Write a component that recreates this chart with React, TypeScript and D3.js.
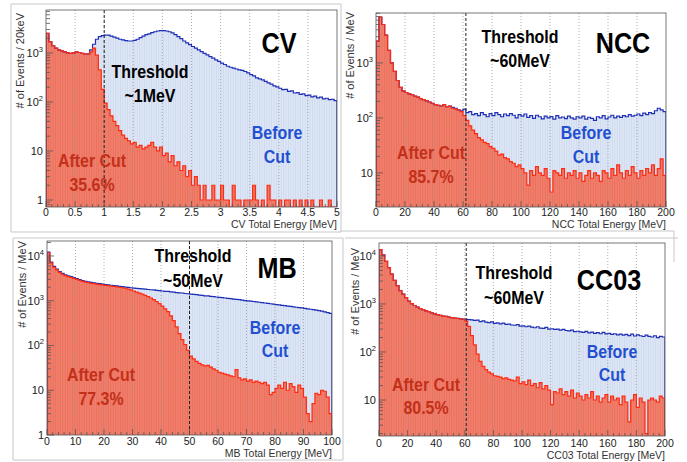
import React from "react";
import * as d3 from "d3";

// ---------------- DATA ----------------
// CV: 100 bins of 0.05 MeV
const cvBefore = [2500,1700,1400,1250,1150,1100,1050,1000,980,1000,
 1050,1020,980,950,960,1150,1500,1900,2150,2250,
 2300,2300,2200,2100,2000,1900,1850,1780,1750,1750,
 1800,1900,2050,2200,2350,2450,2600,2700,2800,2850,
 2850,2800,2700,2550,2350,2150,1950,1750,1600,1480,
 1350,1250,1150,1060,980,910,840,780,720,670,
 620,580,535,510,490,470,452,440,418,390,
 360,340,310,296,283,262,245,230,212,203,
 190,178,180,165,168,152,155,142,146,134,
 138,127,131,121,125,116,119,111,113,106];
const cvAfter = [2500,1700,1400,1250,1150,1100,1050,1000,980,1000,
 1050,1020,980,950,940,1050,1250,900,450,180,
 95,70,52,40,33,26,21,18,16,14,
 15,12,13,11,12,13,15,12,10,12,
 8,9,6,8,5,6,4,5,3,4,
 2,3,2,1,2,1,1,2,1,1,
 2,1,1,0,2,1,1,0,1,1,
 1,2,1,0,1,0,2,1,1,0,
 1,0,1,1,0,1,0,1,0,1,
 0,1,0,0,1,0,0,1,0,0];

// NCC: 100 bins of 2 MeV
const nccBefore = [2500,6800,5000,3200,1700,1000,700,480,360,310,
 290,275,265,250,240,225,215,205,195,185,
 175,170,165,175,160,165,155,150,140,135,
 145,125,130,115,120,110,125,115,105,120,
 110,125,115,105,118,110,120,112,100,115,
 108,118,102,110,98,112,105,96,108,100,
 106,95,110,100,104,97,108,100,95,105,
 100,108,95,103,98,90,105,100,110,96,
 104,112,100,108,102,110,105,115,108,112,
 118,110,122,115,125,120,135,150,140,130];
const nccAfter = [2500,6800,5000,3200,1700,1000,700,480,360,310,
 290,275,265,250,240,225,215,205,195,185,
 175,170,165,175,160,165,150,145,140,130,
 110,90,72,60,52,44,40,36,34,30,
 28,25,21,22,19,18,16,15,13,14,
 12,10,6,11,9,13,10,9,12,8,
 4.5,11,10,9,12,8,10,9,11,8,
 10,7,9,11,8,10,9,7,11,10,
 8,12,9,14,10,8,11,9,13,10,
 8,11,9,12,10,14,9,12,18,9];

// MB: 100 bins of 1 MeV
const mbBefore = [12200,7300,5850,5100,4500,4080,3800,3600,3440,3280,
 3120,2970,2820,2710,2650,2560,2500,2450,2400,2340,
 2290,2270,2220,2180,2140,2100,2060,2020,1980,1950,
 1920,1880,1870,1840,1820,1780,1760,1740,1700,1690,
 1650,1620,1610,1570,1560,1520,1500,1490,1450,1430,
 1400,1380,1370,1340,1320,1290,1280,1250,1230,1210,
 1190,1170,1150,1130,1110,1090,1070,1055,1035,1010,
 995,975,960,940,925,905,890,870,855,840,
 820,805,790,775,760,745,730,715,700,690,
 675,660,645,630,615,600,585,565,545,520];
const mbAfter = [11800,7000,5600,4900,4300,3900,3650,3450,3300,3150,
 3000,2850,2700,2600,2550,2450,2400,2350,2300,2250,
 2200,2180,2120,2080,2040,2000,1950,1900,1820,1740,
 1650,1560,1480,1400,1320,1240,1150,1060,960,860,
 760,660,570,460,360,260,185,135,105,78,
 58,50,44,40,37,35,36,33,30,28,
 25,24,23,22,21,20,29,19,17,18,
 16,17,15,16,15,14,15,13,8,9,
 11,13,11,15,10,14,12,9,13,11,
 7,3,2,5,8.5,8,10,9.5,7,3];

// CC03: 100 bins of 2 MeV
const cc03Before = [13500,10500,7700,5700,4200,3100,2400,1900,1600,1350,
 1150,1020,930,860,800,760,720,690,650,620,
 600,580,560,550,530,520,505,500,495,485,
 480,470,465,455,460,430,445,420,410,425,
 395,405,385,400,375,380,365,360,370,345,
 350,335,345,330,320,335,315,310,325,300,
 305,295,300,285,295,280,275,285,265,270,
 262,255,268,250,258,245,252,240,255,238,
 245,232,240,228,236,225,232,220,235,215,
 228,218,210,225,212,205,218,200,212,205];
const cc03After = [13500,10500,7700,5700,4200,3100,2400,1900,1600,1350,
 1150,1020,930,860,800,760,720,690,650,620,
 600,580,560,550,530,520,505,500,490,480,
 440,340,220,140,90,64,50,43,38,35,
 32,31,30,28,29,27,26,25,30,22,
 24,21,26,20,22,18,23,17,20,16,
 8,15,14,17,13,15,12,16,11,14,
 12,10,13,11,15,10,12,9,11,13,
 9,12,10,11,8,12,9,3.5,10,13,
 7,11,9,2,10,11,10,9,12,11];

// tick values / labels
const cvXTicks = [0,0.5,1,1.5,2,2.5,3,3.5,4,4.5,5];
const nccXTicks = [0,20,40,60,80,100,120,140,160,180,200];
const mbXTicks = [0,10,20,30,40,50,60,70,80,90,100];
const cc03XTicks = [0,20,40,60,80,100,120,140,160,180,200];
const cvYTicks = [1,10,100,1000];
const nccYTicks = [10,100,1000];
const mbYTicks = [1,10,100,1000,10000];
const cc03YTicks = [10,100,1000,10000];

// ---------------- STYLE ----------------
const FONT = "'Liberation Sans', Arial, Helvetica, sans-serif";
const BLUE_FILL = "#dde6f5";
const BLUE_LINE = "#1f2fb5";
const RED_FILL = "#f07e6b";
const RED_LINE = "#ff2a12";
const AFTER_TXT = "#c3301a";
const BEFORE_TXT = "#1f50d0";

type PanelCfg = {
  name: string; before: number[]; after: number[]; binW: number; xMax: number;
  xTicks: number[]; xMinor: number; yTicks: number[]; yMin: number; yMax: number;
  threshold: number; yTitle: string; xTitle: string; thrText: string; pct: string;
  box: { x0: number; x1: number; yTop: number; yBot: number };
  xLabOff: number; xTitleOff: number; yTitleX: number; yTitleY: number;
  title: [number, number]; thr: [number, number, number]; bef: [number, number, number]; aft: [number, number, number];
};

const panels: PanelCfg[] = [
  { name: "CV", before: cvBefore, after: cvAfter, binW: 0.05, xMax: 5, xTicks: cvXTicks, xMinor: 0.1,
    yTicks: cvYTicks, yMin: 0.72, yMax: 7500, threshold: 1, yTitle: "# of Events / 20keV",
    xTitle: "CV Total Energy [MeV]", thrText: "~1MeV", pct: "35.6%",
    box: { x0: 46, x1: 337, yTop: 10, yBot: 207 }, xLabOff: 9, xTitleOff: 21, yTitleX: 24, yTitleY: 13,
    title: [279, 53], thr: [150, 78, 102], bef: [277, 139, 163], aft: [92, 167, 191] },
  { name: "NCC", before: nccBefore, after: nccAfter, binW: 2, xMax: 200, xTicks: nccXTicks, xMinor: 4,
    yTicks: nccYTicks, yMin: 2.4, yMax: 8100, threshold: 62, yTitle: "# of Events / MeV",
    xTitle: "NCC Total Energy [MeV]", thrText: "~60MeV", pct: "85.7%",
    box: { x0: 376, x1: 666, yTop: 13, yBot: 207 }, xLabOff: 9, xTitleOff: 21, yTitleX: 354, yTitleY: 12,
    title: [623, 53], thr: [520, 43, 67], bef: [586, 139, 163], aft: [431, 159, 183] },
  { name: "MB", before: mbBefore, after: mbAfter, binW: 1, xMax: 100, xTicks: mbXTicks, xMinor: 2,
    yTicks: mbYTicks, yMin: 1, yMax: 21600, threshold: 50, yTitle: "# of Events / MeV",
    xTitle: "MB Total Energy [MeV]", thrText: "~50MeV", pct: "77.3%",
    box: { x0: 47, x1: 332, yTop: 241, yBot: 435 }, xLabOff: 10, xTitleOff: 22, yTitleX: 26, yTitleY: 241,
    title: [277, 278], thr: [193, 262, 287], bef: [275, 334, 357], aft: [101, 381, 405] },
  { name: "CC03", before: cc03Before, after: cc03After, binW: 2, xMax: 200, xTicks: cc03XTicks, xMinor: 4,
    yTicks: cc03YTicks, yMin: 1.78, yMax: 18600, threshold: 61, yTitle: "# of Events / MeV",
    xTitle: "CC03 Total Energy [MeV]", thrText: "~60MeV", pct: "80.5%",
    box: { x0: 379, x1: 665, yTop: 243, yBot: 436 }, xLabOff: 11, xTitleOff: 23, yTitleX: 359, yTitleY: 248,
    title: [609, 290], thr: [514, 279, 304], bef: [612, 358, 381], aft: [426, 391, 414] },
];

const borders: [number, number, number, number][] = [
  [11, 4, 341, 4], [11, 4, 11, 232], [11, 232, 341, 232], [341, 4, 341, 232],
  [345, 238, 678, 238],
  [13, 238, 343, 238], [13, 238, 13, 460], [13, 460, 343, 460], [343, 238, 343, 460],
  [340, 231, 674, 231], [674, 231, 674, 262],
];

function stepPath(vals: number[], x: d3.ScaleLinear<number, number>, y: d3.ScaleLogarithmic<number, number>, binW: number, yMin: number) {
  const base = y(yMin);
  let d = `M${x(0)},${base}`;
  vals.forEach((v, i) => {
    const yy = y(Math.max(v, yMin));
    d += `V${yy}H${x((i + 1) * binW)}`;
  });
  d += `V${base}`;
  return d;
}

function Cond({ x, y, size, fill, sx, text }: { x: number; y: number; size: number; fill: string; sx: number; text: string }) {
  return (
    <g transform={`translate(${x},${y}) scale(${sx},1)`}>
      <text textAnchor="middle" fontSize={size} fontWeight="bold" fill={fill} fontFamily={FONT}>{text}</text>
    </g>
  );
}

function Panel({ p, idx }: { p: PanelCfg; idx: number }) {
  const { x0, x1, yTop, yBot } = p.box;
  const x = d3.scaleLinear().domain([0, p.xMax]).range([x0, x1]);
  const y = d3.scaleLog().domain([p.yMin, p.yMax]).range([yBot, yTop]).clamp(true);
  const clipId = `clip${idx}`;
  const beforeD = stepPath(p.before, x, y, p.binW, p.yMin);
  const afterD = stepPath(p.after, x, y, p.binW, p.yMin);

  const minorX = d3.range(0, p.xMax + p.xMinor / 2, p.xMinor);
  const yMinor: { v: number; major: boolean }[] = [];
  for (let k = Math.floor(Math.log10(p.yMin)); k <= Math.ceil(Math.log10(p.yMax)); k++) {
    for (let m = 1; m <= 9; m++) {
      const v = m * Math.pow(10, k);
      if (v >= p.yMin && v <= p.yMax) yMinor.push({ v, major: m === 1 });
    }
  }
  return (
    <g>
      <defs>
        <clipPath id={clipId}><rect x={x0} y={yTop} width={x1 - x0} height={yBot - yTop} /></clipPath>
        <pattern id={`pb${idx}`} patternUnits="userSpaceOnUse" width={2.4} height={10}>
          <rect width={2.4} height={10} fill={BLUE_FILL} />
          <rect width={0.7} height={10} fill="#cdd8ef" />
        </pattern>
        <pattern id={`pr${idx}`} patternUnits="userSpaceOnUse" width={2.4} height={10}>
          <rect width={2.4} height={10} fill={RED_FILL} />
          <rect width={0.7} height={10} fill="#e96e5b" />
        </pattern>
      </defs>
      <rect x={x0} y={yTop} width={x1 - x0} height={yBot - yTop} fill="#fff" />
      <g clipPath={`url(#${clipId})`}>
        <path d={beforeD + "Z"} fill={`url(#pb${idx})`} />
        <path d={afterD + "Z"} fill={`url(#pr${idx})`} />
        {p.xTicks.slice(1, -1).map((t) => (
          <line key={t} x1={x(t)} x2={x(t)} y1={yTop} y2={yBot} stroke="#9a9a9a" strokeWidth={0.8} strokeDasharray="1,2" />
        ))}
        <path d={beforeD} fill="none" stroke={BLUE_LINE} strokeWidth={1.2} />
        <path d={afterD} fill="none" stroke={RED_LINE} strokeWidth={1.2} />
        <line x1={x(p.threshold)} x2={x(p.threshold)} y1={yTop} y2={yBot} stroke="#222" strokeWidth={1} strokeDasharray="3,2" />
      </g>
      <rect x={x0} y={yTop} width={x1 - x0} height={yBot - yTop} fill="none" stroke="#555" strokeWidth={0.8} />
      {minorX.map((t, i) => {
        const major = p.xTicks.some((m) => Math.abs(m - t) < 1e-6);
        return <line key={i} x1={x(t)} x2={x(t)} y1={yBot} y2={yBot - (major ? 6 : 3)} stroke="#555" strokeWidth={0.8} />;
      })}
      {yMinor.map((t, i) => (
        <line key={i} x1={x0} x2={x0 + (t.major ? 7 : 4)} y1={y(t.v)} y2={y(t.v)} stroke="#555" strokeWidth={0.8} />
      ))}
      {p.xTicks.map((t) => (
        <text key={t} x={x(t)} y={yBot + p.xLabOff} textAnchor="middle" fontSize={10.5} fill="#222" fontFamily={FONT}>{String(t)}</text>
      ))}
      {p.yTicks.map((t) => {
        const e = Math.round(Math.log10(t));
        return (
          <text key={t} x={x0 - 3} y={y(t) + 4} textAnchor="end" fontSize={11} fill="#222" fontFamily={FONT}>
            {e <= 1 ? String(t) : (<>10<tspan dy={-5} fontSize={7.5}>{e}</tspan></>)}
          </text>
        );
      })}
      <text x={x1} y={yBot + p.xTitleOff} textAnchor="end" fontSize={10.5} fill="#333" fontFamily={FONT}>{p.xTitle}</text>
      <text transform={`translate(${p.yTitleX},${p.yTitleY}) rotate(-90)`} textAnchor="end" fontSize={11} fill="#333" fontFamily={FONT}>{p.yTitle}</text>
      <Cond x={p.title[0]} y={p.title[1]} size={30} fill="#000" sx={0.84} text={p.name} />
      <Cond x={p.thr[0]} y={p.thr[1]} size={19} fill="#000" sx={0.84} text="Threshold" />
      <Cond x={p.thr[0]} y={p.thr[2]} size={19} fill="#000" sx={0.84} text={p.thrText} />
      <Cond x={p.bef[0]} y={p.bef[1]} size={19} fill={BEFORE_TXT} sx={0.84} text="Before" />
      <Cond x={p.bef[0]} y={p.bef[2]} size={19} fill={BEFORE_TXT} sx={0.84} text="Cut" />
      <Cond x={p.aft[0]} y={p.aft[1]} size={19} fill={AFTER_TXT} sx={0.84} text="After Cut" />
      <Cond x={p.aft[0]} y={p.aft[2]} size={19} fill={AFTER_TXT} sx={0.84} text={p.pct} />
    </g>
  );
}

export default function App() {
  return (
    <svg width={687} height={462} style={{ position: "absolute", left: 0, top: 0, background: "#fff" }}>
      <rect width={687} height={462} fill="#fff" />
      {borders.map((b, i) => (
        <line key={i} x1={b[0]} y1={b[1]} x2={b[2]} y2={b[3]} stroke="#c8c8c8" strokeWidth={1} />
      ))}
      {panels.map((p, i) => <Panel key={p.name} p={p} idx={i} />)}
    </svg>
  );
}
